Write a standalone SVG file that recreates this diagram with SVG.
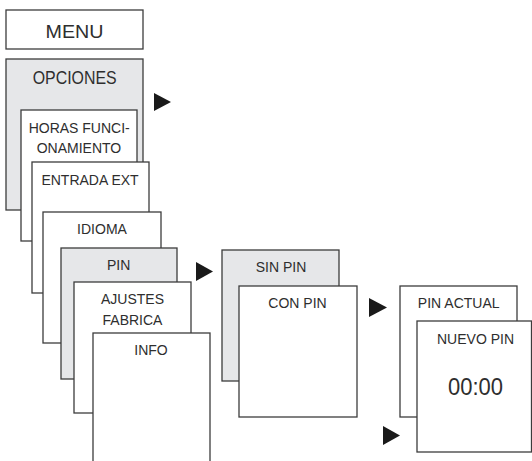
<svg xmlns="http://www.w3.org/2000/svg" width="532" height="461" viewBox="0 0 532 461">
<style>
.b{fill:#ffffff;stroke:#3c3c3c;stroke-width:1.3}
.g{fill:#e6e7e9;stroke:#3c3c3c;stroke-width:1.3}
.t{font-family:"Liberation Sans",Arial,sans-serif;font-size:14px;fill:#2e2e2e;text-anchor:middle}
.l{font-size:19px}
.a{fill:#1a1a1a;stroke:none}
</style>
<rect width="532" height="461" fill="#ffffff"/>
<g id="menu"><rect class="b" x="6" y="10" width="137" height="39"/><text class="t l" x="74.5" y="38.3" textLength="58" lengthAdjust="spacingAndGlyphs">MENU</text></g>
<g id="opciones"><rect class="g" x="6" y="59" width="137" height="151"/><text class="t l" x="74.7" y="84" textLength="84" lengthAdjust="spacingAndGlyphs">OPCIONES</text></g>
<g id="horas"><rect class="b" x="21" y="110" width="116" height="131"/><text class="t" x="79.2" y="133.3">HORAS FUNCI-</text><text class="t" x="79" y="153.3">ONAMIENTO</text></g>
<g id="entrada"><rect class="b" x="32" y="162" width="117" height="131"/><text class="t" x="90" y="185">ENTRADA EXT</text></g>
<g id="idioma"><rect class="b" x="43" y="212" width="118" height="131"/><text class="t" x="102" y="234.3">IDIOMA</text></g>
<g id="pin"><rect class="g" x="61" y="248" width="116" height="131"/><text class="t" x="118.7" y="270">PIN</text></g>
<g id="ajustes"><rect class="b" x="74" y="282" width="117" height="131"/><text class="t" x="132.5" y="304.3">AJUSTES</text><text class="t" x="132.5" y="325">FABRICA</text></g>
<g id="info"><rect class="b" x="93" y="333" width="117" height="145"/><text class="t" x="151" y="355">INFO</text></g>
<g id="sinpin"><rect class="g" x="222" y="250" width="117" height="131"/><text class="t" x="281" y="272.3">SIN PIN</text></g>
<g id="conpin"><rect class="b" x="239" y="286" width="118" height="131"/><text class="t" x="297.5" y="308.3">CON PIN</text></g>
<g id="pinactual"><rect class="b" x="400" y="286" width="117" height="131"/><text class="t" x="458.7" y="308.3">PIN ACTUAL</text></g>
<g id="nuevopin"><rect class="b" x="417" y="321" width="114.5" height="131"/><text class="t" x="475.5" y="344">NUEVO PIN</text><text class="t" x="475.5" y="394.5" style="font-size:23px" textLength="55" lengthAdjust="spacingAndGlyphs">00:00</text></g>
<g id="connectors">
<polygon class="a" points="154,93 171,102 154,111"/>
<polygon class="a" points="196,262 213,271.5 196,281"/>
<polygon class="a" points="369,298 387,307.5 369,317"/>
<polygon class="a" points="383,426 400,435.5 383,445"/>
</g>
</svg>
